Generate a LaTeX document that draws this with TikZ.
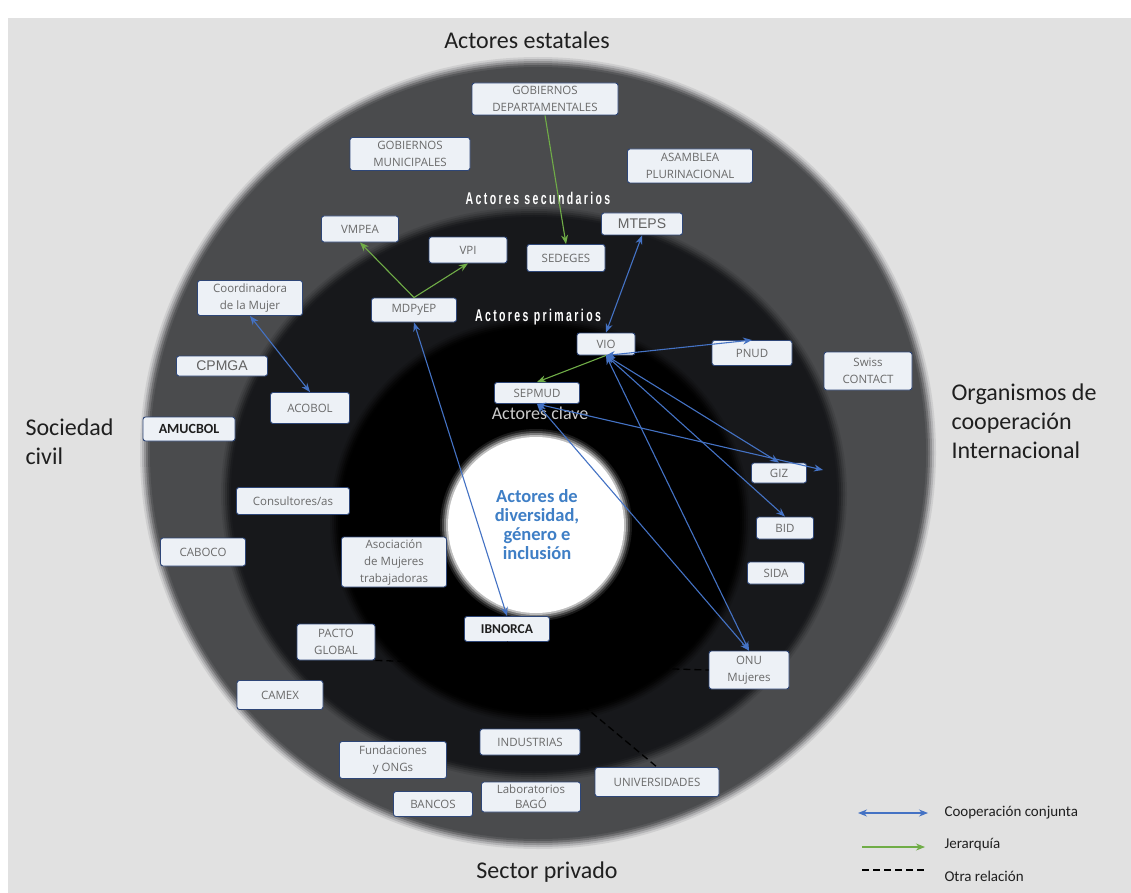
\documentclass[tikz,border=0pt]{standalone}
\usepackage{fontspec}
\setmainfont{Carlito}
\newfontfamily\boxfont{Open Sans}
\newfontfamily\arialfont{Liberation Sans}
\newfontfamily\ringfont{Liberation Sans}[FakeStretch=0.62,LetterSpace=14]
\usetikzlibrary{arrows.meta}

\definecolor{bggrey}{HTML}{E1E1E1}
\definecolor{ringgrey}{HTML}{4A4B4D}
\definecolor{ringdark}{HTML}{17181B}
\definecolor{boxfill}{HTML}{EDF1F6}
\definecolor{boxline}{HTML}{2E4677}
\definecolor{boxtext}{HTML}{6A6A6A}
\definecolor{coopblue}{HTML}{4472C4}
\definecolor{jergreen}{HTML}{70AD47}
\definecolor{centreblue}{HTML}{3F7FC6}
\definecolor{labeltext}{HTML}{1F1F1F}

\tikzset{
  actor/.style={draw=boxline, fill=boxfill, rounded corners=2.5pt, line width=0.9pt,
    inner sep=1pt, align=center, text=boxtext, font=\boxfont\fontsize{11.5}{17}\selectfont},
  sz/.style 2 args={minimum width=#1pt, minimum height=#2pt},
  coop/.style={draw=coopblue, line width=1.1pt,
    {Stealth[length=9pt,width=7pt]}-{Stealth[length=9pt,width=7pt]}},
  jerar/.style={draw=jergreen, line width=1.1pt, -{Stealth[length=9pt,width=7pt]}},
  otra/.style={draw=black, line width=1.3pt, dash pattern=on 7pt off 4pt},
  region/.style={text=labeltext, font=\fontsize{24}{29}\selectfont},
  ringlabel/.style={text=white, font=\ringfont\bfseries\fontsize{17}{20}\selectfont},
  legendtext/.style={anchor=west, text=labeltext, font=\fontsize{15}{18}\selectfont}
}

\begin{document}
\begin{tikzpicture}[x=1pt,y=-1pt]
\useasboundingbox (0,0) rectangle (1131,893);
\fill[bggrey] (8,18) rectangle (1131,893);

% rings, soft edges
\foreach \cx/\cy/\rx/\ry/\col in {538/453/388/386/ringgrey, 534/494/303/277/ringdark, 540/520/200/193/black}{
  \foreach \d/\o in {10/.12,8/.2,6/.3,4/.45,2/.65,0/1}{
    \fill[\col,opacity=\o] (\cx,\cy) ellipse [x radius={(\rx+\d)*1pt}, y radius={(\ry+\d)*1pt}];
  }
}
\foreach \d/\o in {8/.1,6/.18,4/.3,2/.5,0/1}{
  \fill[white,opacity=\o] (536,525) circle [radius={(88+\d)*1pt}];
}

% titles
\node[region] (estatales) at (527,40) {Actores estatales};
\node[region, anchor=west, align=left] (civil) at (22,442) {Sociedad\\civil};
\node[region, anchor=west, align=left] (cooper) at (948,421) {Organismos de\\cooperación\\Internacional};
\node[region] (privado) at (547,872) {Sector privado};

\node[ringlabel] (secund) at (538,198) {Actores secundarios};
\node[ringlabel] (primar) at (538,317) {Actores primarios};
\node[text=black!20, font=\fontsize{18}{20}\selectfont] (clave) at (540,413) {Actores clave};
\node[align=center, text=centreblue, font=\bfseries\fontsize{18.5}{19}\selectfont] (centro) at (537,525)
  {Actores de\\diversidad,\\género e\\inclusión};

% state actors
\node[actor, sz={146}{32}] (gdep) at (545,99) {GOBIERNOS\\DEPARTAMENTALES};
\node[actor, sz={120}{33}] (gmun) at (410,154) {GOBIERNOS\\MUNICIPALES};
\node[actor, sz={125}{34}] (asam) at (690,166) {ASAMBLEA\\PLURINACIONAL};
\node[actor, sz={77}{26}] (vmpea) at (360,229) {VMPEA};
\node[actor, sz={78}{26}] (vpi) at (468,250) {VPI};
\node[actor, sz={78}{27}] (sedeges) at (566,258) {SEDEGES};
\node[actor, sz={81}{22}, text=black!62, font=\arialfont\fontsize{14}{16}\selectfont] (mteps) at (642,224) {MTEPS};
\node[actor, sz={85}{24}] (mdpyep) at (414,310) {MDPyEP};
\node[actor, sz={58}{22}] (vio) at (606,344) {VIO};
\node[actor, sz={85}{21}] (sepmud) at (537,393) {SEPMUD};

% cooperation agencies
\node[actor, sz={80}{25}] (pnud) at (752,353) {PNUD};
\node[actor, sz={88}{38}] (swiss) at (868,371) {Swiss\\CONTACT};
\node[actor, sz={55}{20}] (giz) at (779,473) {GIZ};
\node[actor, sz={57}{22}] (bid) at (785,528) {BID};
\node[actor, sz={57}{22}] (sida) at (776,573) {SIDA};
\node[actor, sz={80}{38}] (onu) at (749,670) {ONU\\Mujeres};
\coordinate (gizout) at (823,470);

% civil society
\node[actor, sz={105}{35}] (coord) at (250,298) {Coordinadora\\de la Mujer};
\node[actor, sz={91}{20}, text=black!62, font=\arialfont\fontsize{14}{16}\selectfont] (cpmga) at (222,366) {CPMGA};
\node[actor, sz={79}{31}] (acobol) at (310,408) {ACOBOL};
\node[actor, sz={92}{24}, text=labeltext, font=\bfseries\fontsize{14}{16}\selectfont] (amucbol) at (189,429) {AMUCBOL};
\node[actor, sz={113}{27}] (consult) at (293,501) {Consultores/as};
\node[actor, sz={85}{28}] (caboco) at (203,552) {CABOCO};
\node[actor, sz={105}{50}] (asoc) at (394,562) {Asociación\\de Mujeres\\trabajadoras};

% private sector
\node[actor, sz={85}{25}, text=labeltext, font=\bfseries\fontsize{13.5}{16}\selectfont] (ibnorca) at (507,629) {IBNORCA};
\node[actor, sz={78}{36}] (pacto) at (336,642) {PACTO\\GLOBAL};
\node[actor, sz={86}{29}] (camex) at (280,695) {CAMEX};
\node[actor, sz={107}{37}] (fund) at (393,760) {Fundaciones\\y ONGs};
\node[actor, sz={100}{26}] (industrias) at (530,742) {INDUSTRIAS};
\node[actor, sz={79}{25}] (bancos) at (433,804) {BANCOS};
\node[actor, sz={99}{30}, font=\boxfont\fontsize{11.5}{15}\selectfont] (lab) at (531,797) {Laboratorios\\BAGÓ};
\node[actor, sz={124}{29}] (univ) at (657,782) {UNIVERSIDADES};

% relations
\draw[jerar] (gdep.south) -- (sedeges.north);
\draw[jerar] (mdpyep.north) -- (vmpea.south);
\draw[jerar] (mdpyep.north) -- (vpi.south);
\draw[jerar] (vio.south) -- (sepmud.north);

\draw[coop] (coord.south) -- (acobol.north);
\draw[coop] (mdpyep.south) -- (ibnorca.north);
\draw[coop] (mteps.south) -- (vio.north);
\draw[coop] (vio.south) -- (pnud.north);
\draw[coop] (vio.south) -- (giz.north);
\draw[coop] (vio.south) -- (bid.north);
\draw[coop] (vio.south) -- (onu.north);
\draw[coop] (sepmud.south) -- (onu.north);
\draw[coop] (sepmud.south) -- (gizout);

\draw[otra] (pacto.south east) -- (onu.west);
\draw[otra] (ibnorca.south) -- (univ.north);

% legend
\coordinate (l1a) at (858,813); \coordinate (l1b) at (928,813);
\coordinate (l2a) at (862,847); \coordinate (l2b) at (925,847);
\coordinate (l3a) at (862,870); \coordinate (l3b) at (927,870);
\draw[coop] (l1a) -- (l1b);
\draw[jerar] (l2a) -- (l2b);
\draw[otra] (l3a) -- (l3b);
\node[legendtext] (leg1) at (941,813) {Cooperación conjunta};
\node[legendtext] (leg2) at (941,845) {Jerarquía};
\node[legendtext] (leg3) at (941,876) {Otra relación};
\end{tikzpicture}
\end{document}
